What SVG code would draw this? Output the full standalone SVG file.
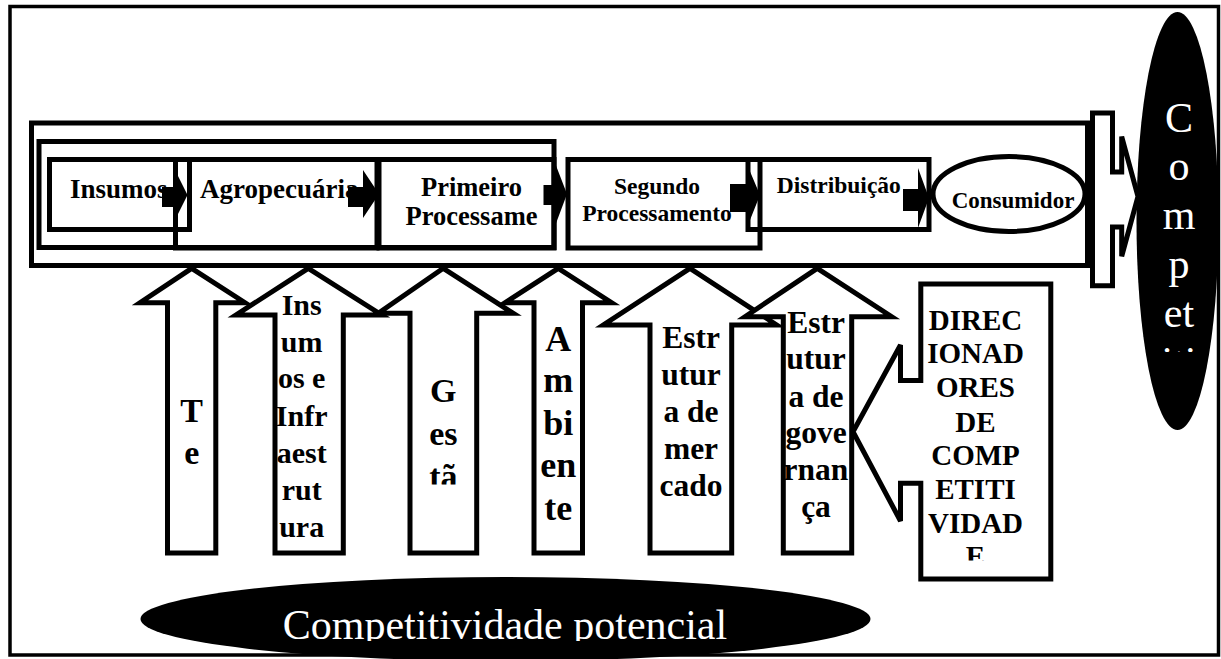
<svg xmlns="http://www.w3.org/2000/svg" width="1221" height="659" viewBox="0 0 1221 659">
<style>
.ln{fill:none;stroke:#000;stroke-width:5}
.wf{fill:#fff;stroke:#000;stroke-width:5}
.ar{fill:#000}
.b{font-family:"Liberation Serif","Times New Roman",serif;font-weight:bold;fill:#000}
.r{font-family:"Liberation Serif","Times New Roman",serif;fill:#fff}
</style>
<defs>
<clipPath id="cA2"><path d="M308.3,268.3 L381.7,315 H343.3 V553 H275 V315 H236 Z"/></clipPath>
<clipPath id="cA3"><rect x="412" y="300" width="63" height="184.5"/></clipPath>
<clipPath id="cA6"><path d="M817.3,268.3 L891.7,316.7 H851.7 V553 H783.3 V316.7 H745 Z"/></clipPath>
<clipPath id="cDir"><rect x="921" y="285" width="130" height="275.5"/></clipPath>
<clipPath id="cComp"><rect x="1130" y="0" width="91" height="352"/></clipPath>
<clipPath id="cPot"><rect x="0" y="0" width="1221" height="641"/></clipPath>
</defs>
<rect x="0" y="0" width="1221" height="659" fill="#fff"/>
<rect id="frame" x="10" y="6.5" width="1208.5" height="648.5" fill="none" stroke="#000" stroke-width="3.5"/>

<g id="chain-container"><rect class="ln" x="31.5" y="123" width="1056" height="142.5"/></g>
<g id="group-primary"><rect class="ln" x="39" y="141.5" width="515" height="106"/></g>

<g id="node-insumos">
<rect class="ln" x="49.5" y="159.5" width="140" height="70"/>
<text class="b" x="70" y="197.5" font-size="27">Insumos</text>
</g>
<g id="node-agropecuaria">
<rect class="ln" x="175.5" y="159.5" width="201.5" height="88.5"/>
<text class="b" x="200" y="197.5" font-size="27">Agropecuária</text>
</g>
<g id="node-primeiro">
<rect class="ln" x="379" y="159.5" width="175" height="88.5"/>
<text class="b" x="471.5" y="195.7" font-size="26.5" text-anchor="middle">Primeiro</text>
<text class="b" x="471.5" y="225" font-size="26.5" text-anchor="middle">Processame</text>
</g>
<g id="node-segundo">
<rect class="ln" x="568" y="159.5" width="192" height="88.5"/>
<text class="b" x="657" y="194" font-size="23.5" text-anchor="middle">Segundo</text>
<text class="b" x="657" y="221" font-size="23.5" text-anchor="middle">Processamento</text>
</g>
<g id="node-distribuicao">
<rect class="ln" x="748" y="159.5" width="181" height="70"/>
<text class="b" x="776.8" y="192.5" font-size="23.5">Distribuição</text>
</g>

<g id="connectors">
<path class="ar" d="M162,187 H176 V172 L187.5,195 L176,218 V207 H162 Z"/>
<path class="ar" d="M348,187 H363 V170 L379,194 L363,218 V207 H348 Z"/>
<path class="ar" d="M543.5,185 H555 V163 L567,194 L555,226 V205 H543.5 Z"/>
<path class="ar" d="M730,184 H746 V162 L760,195 L746,230 V212 H730 Z"/>
<path class="ar" d="M903,189 H918 V168 L929,198 L918,228 V211 H903 Z"/>
</g>

<g id="node-consumidor">
<ellipse class="wf" cx="1009" cy="194" rx="76" ry="37.5"/>
<text class="b" x="1013" y="208" font-size="23" text-anchor="middle">Consumidor</text>
</g>

<g id="node-callout-right">
<path class="wf" d="M1092.5,113 H1112.5 V172 H1121.7 V136.6 L1138,196.5 L1121.7,256.3 V227 H1112.5 V285.7 H1092.5 Z"/>
</g>

<g id="node-competitividade-revelada">
<ellipse cx="1177.5" cy="221" rx="41" ry="209" fill="#000"/>
<g clip-path="url(#cComp)" class="r" font-size="42" text-anchor="middle">
<text x="1179" y="131.5">C</text>
<text x="1179" y="180">o</text>
<text x="1179" y="229">m</text>
<text x="1179" y="278">p</text>
<text x="1179" y="327">et</text>
<text x="1179" y="376">iti</text>
</g>
</g>

<g id="node-tecnologia">
<path class="wf" d="M191.7,268.3 L245,302.7 H215.8 V553 H167.5 V302.7 H140 Z"/>
<g class="b" font-size="34" text-anchor="middle">
<text x="191.7" y="421.7">T</text>
<text x="191.7" y="464">e</text>
</g>
</g>
<g id="node-insumos-infra">
<path class="wf" d="M308.3,268.3 L381.7,315 H343.3 V553 H275 V315 H236 Z"/>
<g class="b" font-size="30" text-anchor="middle" clip-path="url(#cA2)">
<text x="301.7" y="315">Ins</text>
<text x="301.7" y="351.7">um</text>
<text x="301.7" y="388.3">os e</text>
<text x="301.7" y="425.7">Infr</text>
<text x="301.7" y="462.7">aest</text>
<text x="301.7" y="500">rut</text>
<text x="301.7" y="537.3">ura</text>
</g>
</g>
<g id="node-gestao">
<path class="wf" d="M443.3,268.3 L513.3,313.3 H476.7 V553 H410 V313.3 H378.3 Z"/>
<g class="b" font-size="34" text-anchor="middle" clip-path="url(#cA3)">
<text x="443.3" y="401.7">G</text>
<text x="443.3" y="445">es</text>
<text x="443.3" y="488">tã</text>
</g>
</g>
<g id="node-ambiente">
<path class="wf" d="M558.3,268.3 L611.7,302.7 H582.5 V553 H534 V302.7 H505 Z"/>
<g class="b" font-size="36" text-anchor="middle">
<text x="558.3" y="350.7">A</text>
<text x="558.3" y="391.7">m</text>
<text x="558.3" y="435">bi</text>
<text x="558.3" y="476.7">en</text>
<text x="558.3" y="520">te</text>
</g>
</g>
<g id="node-mercado">
<path class="wf" d="M690,268.3 L776.7,325 H731.7 V553 H650 V325 H603.3 Z"/>
<g class="b" font-size="31.5" text-anchor="middle">
<text x="691" y="348.3">Estr</text>
<text x="691" y="385">utur</text>
<text x="691" y="421.7">a de</text>
<text x="691" y="459">mer</text>
<text x="691" y="496">cado</text>
</g>
</g>
<g id="node-governanca">
<path class="wf" d="M817.3,268.3 L891.7,316.7 H851.7 V553 H783.3 V316.7 H745 Z"/>
<g class="b" font-size="31.5" text-anchor="middle" clip-path="url(#cA6)">
<text x="816" y="332.7">Estr</text>
<text x="816" y="369.3">utur</text>
<text x="816" y="406.7">a de</text>
<text x="816" y="442.7">gove</text>
<text x="816" y="480">rnan</text>
<text x="816" y="516.7">ça</text>
</g>
</g>

<g id="node-direcionadores">
<path class="wf" d="M920.8,284 H1050.8 V579 H920.8 V483.3 H900.5 V521 L853,431.7 L900.5,345 V380.5 H920.8 Z"/>
<g class="b" font-size="29" text-anchor="middle" clip-path="url(#cDir)">
<text x="975.5" y="330">DIREC</text>
<text x="975.5" y="363.3">IONAD</text>
<text x="975.5" y="397.3">ORES</text>
<text x="975.5" y="431.7">DE</text>
<text x="975.5" y="465">COMP</text>
<text x="975.5" y="499">ETITI</text>
<text x="975.5" y="532.7">VIDAD</text>
<text x="975.5" y="566">E</text>
</g>
</g>

<g id="node-competitividade-potencial">
<ellipse cx="505.5" cy="619" rx="365" ry="42" fill="#000"/>
<text class="r" x="505" y="639" font-size="42" text-anchor="middle" clip-path="url(#cPot)">Competitividade potencial</text>
</g>
</svg>
